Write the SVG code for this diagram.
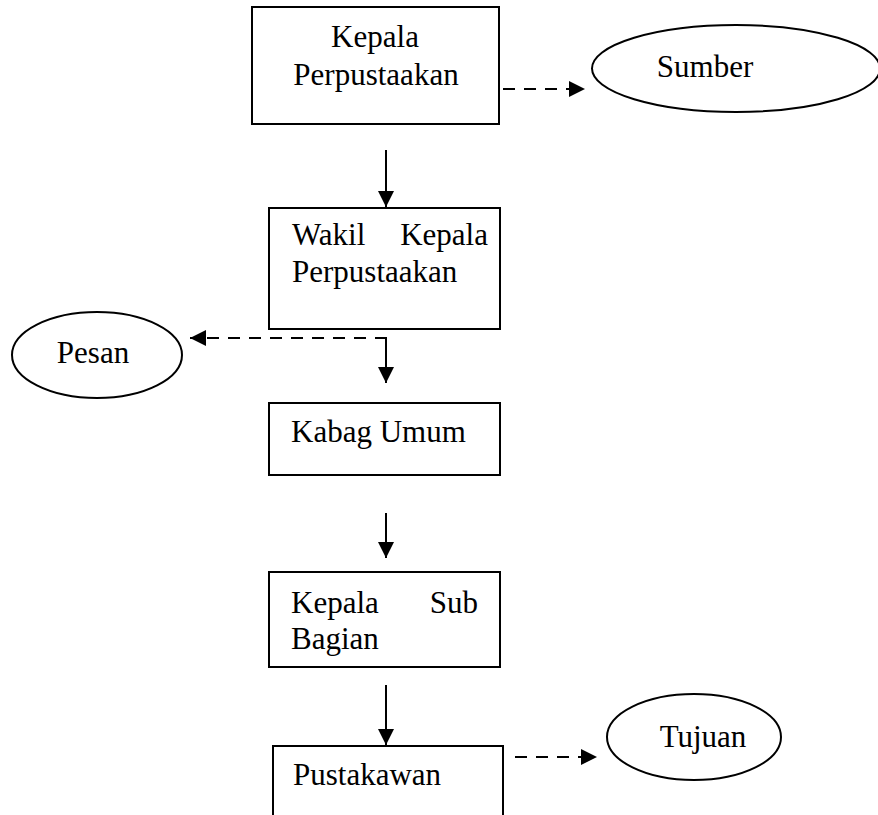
<svg xmlns="http://www.w3.org/2000/svg" width="878" height="815" viewBox="0 0 878 815">
<style>
.box{fill:#fff;stroke:#000;stroke-width:2}
.ell{fill:#fff;stroke:#000;stroke-width:2}
.t{font-family:"Liberation Serif","Times New Roman",serif;font-size:31px;fill:#000}
.c{stroke:#000;stroke-width:2;fill:none}
.d{stroke-dasharray:12 9}
</style>
<defs>
<marker id="ah" markerUnits="userSpaceOnUse" markerWidth="16" markerHeight="16" viewBox="0 0 16 16" refX="16" refY="8" orient="auto">
<path d="M0,0 L16,8 L0,16 Z" fill="#000"/>
</marker>
</defs>
<rect x="0" y="0" width="878" height="815" fill="#fff"/>
<g id="connectors">
<line class="c" x1="386" y1="150" x2="386" y2="207" marker-end="url(#ah)"/>
<line class="c" x1="386" y1="338" x2="386" y2="383" marker-end="url(#ah)"/>
<line class="c" x1="386" y1="513" x2="386" y2="558" marker-end="url(#ah)"/>
<line class="c" x1="386" y1="685" x2="386" y2="745" marker-end="url(#ah)"/>
<line class="c d" x1="503" y1="89" x2="585" y2="89" marker-end="url(#ah)"/>
<line class="c d" x1="387" y1="338" x2="190" y2="338" marker-end="url(#ah)"/>
<line class="c d" x1="515" y1="757" x2="597" y2="757" marker-end="url(#ah)"/>
</g>
<g id="kepala-perpustakaan">
<rect class="box" x="252" y="7" width="247" height="117"/>
<text class="t" x="375" y="47" text-anchor="middle">Kepala</text>
<text class="t" x="376" y="85" text-anchor="middle">Perpustaakan</text>
</g>
<g id="sumber">
<ellipse class="ell" cx="736" cy="68.5" rx="144" ry="43.5"/>
<text class="t" x="705" y="77" text-anchor="middle">Sumber</text>
</g>
<g id="wakil-kepala">
<rect class="box" x="269" y="208" width="231" height="121"/>
<text class="t" x="292" y="245">Wakil</text>
<text class="t" x="488" y="245" text-anchor="end">Kepala</text>
<text class="t" x="292" y="282">Perpustaakan</text>
</g>
<g id="pesan">
<ellipse class="ell" cx="97" cy="355" rx="85" ry="43"/>
<text class="t" x="93" y="363" text-anchor="middle">Pesan</text>
</g>
<g id="kabag-umum">
<rect class="box" x="269" y="403" width="231" height="72"/>
<text class="t" x="291" y="442">Kabag Umum</text>
</g>
<g id="kepala-sub-bagian">
<rect class="box" x="269" y="572" width="231" height="95"/>
<text class="t" x="291" y="613">Kepala</text>
<text class="t" x="478" y="613" text-anchor="end">Sub</text>
<text class="t" x="291" y="649">Bagian</text>
</g>
<g id="pustakawan">
<rect class="box" x="273" y="746" width="230" height="90"/>
<text class="t" x="293" y="785">Pustakawan</text>
</g>
<g id="tujuan">
<ellipse class="ell" cx="694" cy="737" rx="87" ry="43"/>
<text class="t" x="703" y="747" text-anchor="middle">Tujuan</text>
</g>
</svg>
